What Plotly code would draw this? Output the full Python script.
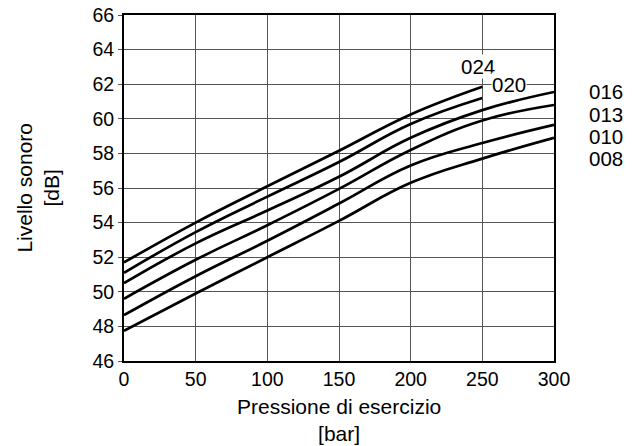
import plotly.graph_objects as go

pressure = [0, 50, 100, 150, 200, 250, 300]
series_names = ["024", "020", "016", "013", "010", "008"]
s024 = [51.7, 54.0, 56.1, 58.15, 60.25, 61.85]
s020 = [51.1, 53.45, 55.5, 57.5, 59.7, 61.2]
s016 = [50.5, 52.8, 54.7, 56.65, 58.9, 60.5, 61.55]
s013 = [49.6, 51.85, 53.85, 55.95, 58.2, 59.9, 60.8]
s010 = [48.65, 50.9, 52.95, 55.1, 57.3, 58.6, 59.65]
s008 = [47.75, 49.9, 52.0, 54.1, 56.3, 57.7, 58.9]
series_values = [s024, s020, s016, s013, s010, s008]

x_ticks = [0, 50, 100, 150, 200, 250, 300]
y_ticks = list(range(46, 67, 2))

FONT = "Liberation Sans, Arial, sans-serif"
TICK = 19.5
TXT = 20.5
TITLE = 21

fig = go.Figure()
for name, vals in zip(series_names, series_values):
    fig.add_trace(go.Scatter(
        x=pressure[:len(vals)], y=vals, mode="lines", name=name,
        line=dict(color="black", width=2.7, shape="spline", smoothing=1.2),
        showlegend=False, hoverinfo="skip"))

# labels inside plot (with white background)
fig.add_annotation(x=247, y=63.05, xref="x", yref="y", text="024", showarrow=False,
                   xanchor="center", yanchor="middle",
                   bgcolor="white", font=dict(size=TXT, color="black", family=FONT),
                   borderpad=0)
fig.add_annotation(x=268.6, y=62.0, xref="x", yref="y", text="020", showarrow=False,
                   xanchor="center", yanchor="middle",
                   bgcolor="white", font=dict(size=TXT, color="black", family=FONT),
                   borderpad=0)
# labels right of plot
right_labels = [("016", 61.55), ("013", 60.25), ("010", 58.95), ("008", 57.68)]
for txt, yv in right_labels:
    fig.add_annotation(x=1.121, y=yv, xref="paper", yref="y", text=txt, showarrow=False,
                       xanchor="center", yanchor="middle",
                       font=dict(size=TXT, color="black", family=FONT))

# axis titles
fig.add_annotation(x=-0.201, y=0.5, xref="paper", yref="paper",
                   xanchor="center", yanchor="middle",
                   text="Livello sonoro<br>[dB]", textangle=-90, showarrow=False,
                   font=dict(size=TITLE, color="black", family=FONT))
fig.add_annotation(x=0.5, y=-0.17, xref="paper", yref="paper",
                   xanchor="center", yanchor="middle",
                   text="Pressione di esercizio<br>[bar]", showarrow=False,
                   font=dict(size=TITLE, color="black", family=FONT))

fig.update_xaxes(range=[0, 300], tickvals=x_ticks, showgrid=True, gridcolor="#555555",
                 gridwidth=1, showline=True, linecolor="black", linewidth=2, mirror=True,
                 ticks="", zeroline=False, automargin=False,
                 tickfont=dict(size=TICK, color="black", family=FONT))
fig.update_yaxes(range=[46, 66], tickvals=y_ticks, showgrid=True, gridcolor="#555555",
                 gridwidth=1, showline=True, linecolor="black", linewidth=2, mirror=True,
                 ticks="outside", ticklen=4, tickcolor="#555555", zeroline=False,
                 automargin=False,
                 tickfont=dict(size=TICK, color="black", family=FONT))

fig.update_layout(width=637, height=446, margin=dict(l=124, r=83, t=15, b=85),
                  plot_bgcolor="white", paper_bgcolor="white",
                  font=dict(family=FONT, color="black"))

post = ("document.body.style.margin='0';"
        "var gd=document.getElementById('{plot_id}');"
        "gd.style.position='fixed';gd.style.left='0px';gd.style.top='0px';")
fig.write_html("out.html", post_script=post, config={"displayModeBar": False})
